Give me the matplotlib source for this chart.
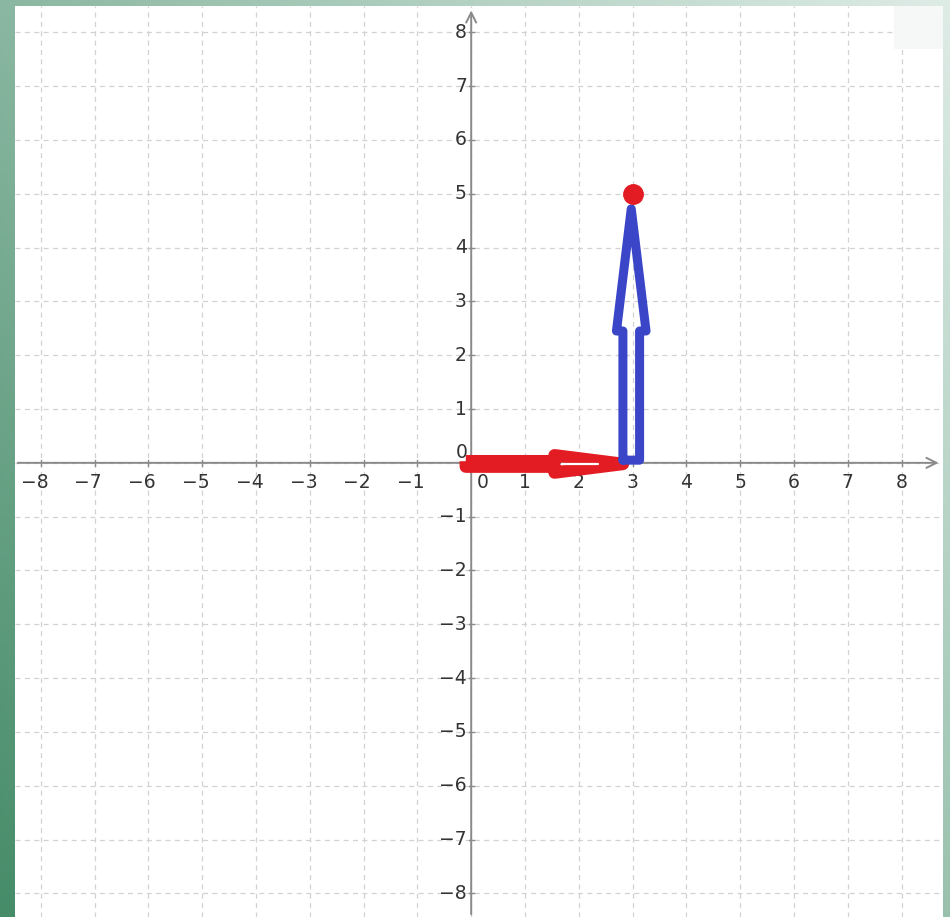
import numpy as np
import matplotlib
matplotlib.use("Agg")
import matplotlib.pyplot as plt

# ---- data ----
x_ticks = [-8, -7, -6, -5, -4, -3, -2, -1, 1, 2, 3, 4, 5, 6, 7, 8]
y_ticks = [-8, -7, -6, -5, -4, -3, -2, -1, 1, 2, 3, 4, 5, 6, 7, 8]
grid_vals = list(range(-8, 9))

blue_x = [2.82, 2.82, 2.70, 2.975, 3.25, 3.13, 3.13, 2.82]
blue_y = [0.05, 2.45, 2.45, 4.72, 2.45, 2.45, 0.05, 0.05]

red_x = [-0.1, 1.55, 1.55, 2.82, 1.55, 1.55, -0.1, -0.1]
red_y = [0.03, 0.03, 0.14, -0.02, -0.18, -0.07, -0.07, 0.03]

red_inner_x = [1.68, 2.35]
red_inner_y = [-0.02, -0.02]

point_x = [3]
point_y = [5]

W, H = 950, 917
DPI = 100
fig = plt.figure(figsize=(W / DPI, H / DPI), dpi=DPI)

# background gradient
bg = fig.add_axes([0, 0, 1, 1])
xx, yy = np.meshgrid(np.linspace(0, 1, 200), np.linspace(0, 1, 200))
t = np.clip(0.55 * xx + 0.45 * (1 - yy), 0, 1)[..., None]
dark = np.array([70, 140, 105]) / 255
light = np.array([222, 236, 230]) / 255
img = dark * (1 - t) + light * t
bg.imshow(img, extent=[0, 1, 0, 1], aspect='auto', origin='upper')
bg.set_axis_off()

L, R, T, B = 15, 943, 6, 917
ax = fig.add_axes([L / W, 1 - B / H, (R - L) / W, (B - T) / H])
ax.set_facecolor('white')
xmin, xmax = -8.48, 8.77
ymin, ymax = -8.44, 8.49
ax.set_xlim(xmin, xmax)
ax.set_ylim(ymin, ymax)
for s in ax.spines.values():
    s.set_visible(False)
ax.set_xticks([])
ax.set_yticks([])

# grid
for g in grid_vals:
    ax.axvline(g, color='#d2d2d2', lw=0.9, ls=(0, (4, 3.5)), zorder=1)
    ax.axhline(g, color='#d2d2d2', lw=0.9, ls=(0, (4, 3.5)), zorder=1)

# top-right grey box
ax.add_patch(plt.Rectangle((7.85, 7.7), xmax - 7.85, ymax - 7.7,
                           facecolor='#f6f7f7', edgecolor='none', zorder=1.5))

# axes with arrows
ax.annotate('', xy=(8.74, 0), xytext=(xmin, 0),
            arrowprops=dict(arrowstyle='->', color='#8a8a8a', lw=1.4,
                            mutation_scale=18), zorder=2)
ax.annotate('', xy=(0, 8.46), xytext=(0, ymin),
            arrowprops=dict(arrowstyle='->', color='#8a8a8a', lw=1.4,
                            mutation_scale=18), zorder=2)
for v in grid_vals:
    ax.plot([v, v], [-0.05, 0.05], color='#8a8a8a', lw=1.0, zorder=2)
    ax.plot([-0.05, 0.05], [v, v], color='#8a8a8a', lw=1.0, zorder=2)

# tick labels
fs = 13.5
lc = '#333333'
for v in x_ticks:
    lab = str(v).replace('-', '\u2212')
    ax.text(v - (0.12 if v < 0 else 0), -0.37, lab, ha='center', va='center',
            fontsize=fs, color=lc, zorder=3)
for v in y_ticks:
    lab = str(v).replace('-', '\u2212')
    ax.text(-0.08, v, lab, ha='right', va='center', fontsize=fs, color=lc, zorder=3)
ax.text(0.22, -0.37, '0', ha='center', va='center', fontsize=fs, color=lc, zorder=3)
ax.text(-0.18, 0.2, '0', ha='center', va='center', fontsize=fs, color=lc, zorder=3)

# red arrow
ax.plot(red_x, red_y, color='#e31b23', lw=9, solid_joinstyle='round',
        solid_capstyle='butt', zorder=4)
ax.plot(red_inner_x, red_inner_y, color='white', lw=1.6,
        solid_capstyle='round', zorder=4.5)
# blue arrow
ax.plot(blue_x, blue_y, color='#3a45c8', lw=6.5, solid_joinstyle='round',
        solid_capstyle='round', zorder=5)
# point
ax.plot(point_x, point_y, 'o', color='#e31b23', markersize=14, zorder=6)

fig.savefig('out.png', dpi=DPI)
